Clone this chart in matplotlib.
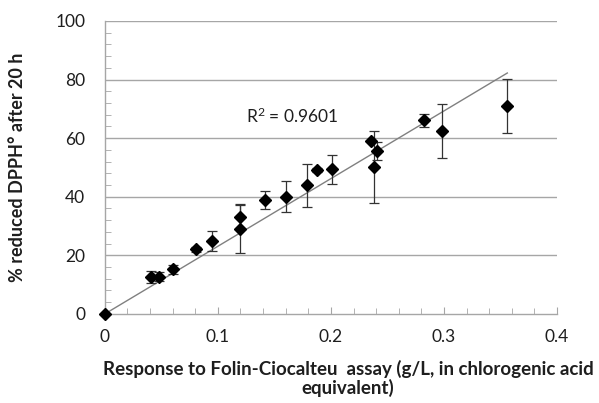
import matplotlib
matplotlib.use("Agg")
import matplotlib.pyplot as plt
from matplotlib.ticker import MultipleLocator
import numpy as np

# folin response (g/L chlorogenic acid eq.) vs % reduced DPPH after 20 h
folin = [0.0, 0.0408, 0.0478, 0.0605, 0.0804, 0.0949, 0.1194, 0.1194,
         0.1418, 0.160, 0.1787, 0.188, 0.2005, 0.2355, 0.2407, 0.2380,
         0.282, 0.2978, 0.356]
dpph = [0.0, 12.7, 12.7, 15.2, 22.1, 24.9, 29.0, 33.2,
        38.8, 40.0, 43.9, 49.1, 49.3, 59.0, 55.6, 50.2,
        66.1, 62.4, 71.1]
dpph_err = [0.0, 2.0, 1.5, 1.6, 0.8, 3.5, 8.2, 4.2,
            3.0, 5.3, 7.4, 0.8, 4.8, 0.0, 3.0, 12.3,
            2.3, 9.2, 9.2]

trend_slope = 231.0
trend_intercept = 0.0
r2_text = "R$^{2}$ = 0.9601"

x_ticks = [0.0, 0.1, 0.2, 0.3, 0.4]
x_tick_labels = ["0", "0.1", "0.2", "0.3", "0.4"]
y_ticks = [0, 20, 40, 60, 80, 100]

plt.rcParams["font.family"] = ["Lato", "DejaVu Sans"]
plt.rcParams["mathtext.fontset"] = "custom"
plt.rcParams["mathtext.rm"] = "Lato"
plt.rcParams["mathtext.it"] = "Lato"

fig = plt.figure(figsize=(5.99, 4.03), dpi=100)
ax = fig.add_axes([0.175, 0.221, 0.755, 0.727])

grid_col = "#a6a6a6"
text_col = "#1e1e1e"
for yv in y_ticks[1:]:
    ax.axhline(yv, color=grid_col, lw=1.0, zorder=1)

xs = np.array([min(folin), max(folin)])
ax.plot(xs, trend_intercept + trend_slope * xs, color="#808080", lw=1.0, zorder=2)

ax.errorbar(folin, dpph, yerr=dpph_err, fmt="none", ecolor="#333333",
            elinewidth=0.9, capsize=3.5, capthick=0.9, zorder=3)
ax.plot(folin, dpph, ls="none", marker="D", ms=6.2, color="black", zorder=4,
        clip_on=False)

ax.text(0.125, 65, r2_text, fontsize=12.5, color=text_col, va="baseline")

ax.set_xlim(0, 0.4)
ax.set_ylim(0, 100)
ax.set_xticks(x_ticks)
ax.set_xticklabels(x_tick_labels)
ax.set_yticks(y_ticks)
ax.xaxis.set_minor_locator(MultipleLocator(0.02))
ax.yaxis.set_minor_locator(MultipleLocator(4))

for side in ("top", "right"):
    ax.spines[side].set_visible(False)
for side in ("left", "bottom"):
    ax.spines[side].set_color(grid_col)
    ax.spines[side].set_linewidth(1.0)

ax.tick_params(axis="x", which="major", direction="in", length=5, color=grid_col,
               labelsize=12.5, labelcolor=text_col, pad=11)
ax.tick_params(axis="x", which="minor", direction="in", length=4, color=grid_col)
ax.tick_params(axis="y", which="major", direction="in", length=0,
               labelsize=12.5, labelcolor=text_col, pad=14)
ax.tick_params(axis="y", which="minor", direction="in", length=4, color=grid_col)

ax.set_xlabel("Response to Folin-Ciocalteu  assay (g/L, in chlorogenic acid\nequivalent)",
              fontsize=13.5, fontweight="bold", color=text_col, linespacing=1.05)
ax.xaxis.set_label_coords(0.538, -0.158)
ax.set_ylabel("% reduced DPPH° after 20 h", fontsize=13, fontweight="bold",
              color=text_col)
ax.yaxis.set_label_coords(-0.175, 0.5)

fig.savefig("out.png", dpi=100)
